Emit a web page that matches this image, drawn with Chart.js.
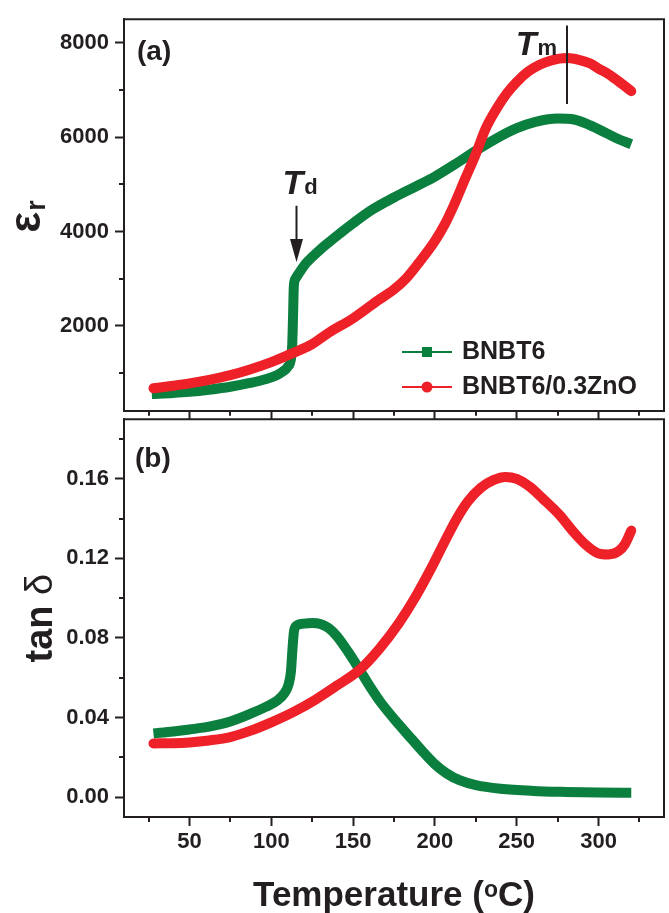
<!DOCTYPE html>
<html><head><meta charset="utf-8">
<script src="https://cdn.jsdelivr.net/npm/chart.js@4.4.1/dist/chart.umd.min.js"></script>
<style>
html,body{margin:0;padding:0;background:#fff;}
#wrap{position:relative;width:669px;height:913px;overflow:hidden;background:#fff;}
#cb{position:absolute;left:0;top:400px;}
#ct{position:absolute;left:0;top:0;}
</style></head><body>
<div id="wrap">
<canvas id="cb" width="669" height="513"></canvas>
<canvas id="ct" width="669" height="430"></canvas>
</div>
<script>
// ---------- data ----------
const SERIES_NAMES = ['BNBT6', 'BNBT6/0.3ZnO'];
const X_MIN = 10, X_MAX = 340;
const X_MAJOR_TICKS = [50, 100, 150, 200, 250, 300];
const X_MINOR_TICKS = [25, 75, 125, 175, 225, 275, 325];
const EPS_MIN = 200, EPS_MAX = 8500;
const EPS_MAJOR_TICKS = [2000, 4000, 6000, 8000];
const EPS_MINOR_TICKS = [1000, 3000, 5000, 7000];
const TAN_MIN = -0.01, TAN_MAX = 0.19;
const TAN_MAJOR_TICKS = [0, 0.04, 0.08, 0.12, 0.16];
const TAN_MINOR_TICKS = [0.02, 0.06, 0.10, 0.14, 0.18];

// (a) permittivity
const EPS_T_BNBT6 = [27, 40, 50, 62, 75, 87, 97, 103, 107, 110, 111.8, 112.8, 113.3, 113.8, 114.8, 117, 121, 125, 130, 135, 142, 150, 162, 175, 188, 200, 212, 225, 238, 250, 262, 275, 285, 295, 305, 312, 320];
const EPS_BNBT6   = [555, 578, 603, 648, 710, 790, 875, 950, 1030, 1130, 1260, 1600, 2200, 2850, 3000, 3120, 3320, 3460, 3620, 3765, 3960, 4175, 4470, 4721, 4950, 5165, 5420, 5712, 5980, 6190, 6330, 6395, 6375, 6250, 6080, 5960, 5850];
const EPS_T_ZNO = [28, 40, 50, 62, 75, 87, 100, 112, 125, 135, 150, 165, 175, 182, 190, 200, 206, 212, 218, 225, 231, 238, 244, 250, 257, 264, 270, 276, 281, 288, 295, 300, 305, 310, 315, 320];
const EPS_ZNO   = [677, 730, 780, 855, 955, 1075, 1230, 1405, 1613, 1852, 2160, 2535, 2774, 2990, 3330, 3800, 4150, 4590, 5080, 5643, 6180, 6620, 6930, 7170, 7390, 7535, 7615, 7665, 7679, 7640, 7560, 7453, 7360, 7240, 7110, 6975];

// (b) loss tangent
const TAN_T_BNBT6 = [28, 40, 50, 62, 75, 87, 97, 104, 108, 110.5, 112, 113, 114, 116, 120, 125, 130, 135, 140, 147, 154, 160, 167, 178, 186, 193, 200, 207, 215, 225, 240, 260, 280, 300, 320];
const TAN_BNBT6   = [0.032, 0.033, 0.034, 0.0354, 0.0380, 0.0418, 0.0455, 0.0488, 0.0522, 0.0565, 0.063, 0.075, 0.084, 0.0865, 0.0872, 0.0875, 0.087, 0.085, 0.081, 0.073, 0.064, 0.056, 0.0475, 0.0365, 0.029, 0.0225, 0.0165, 0.012, 0.0085, 0.006, 0.0042, 0.0031, 0.0026, 0.0023, 0.0022];
const TAN_T_ZNO = [28, 40, 50, 62, 75, 87, 100, 114, 127, 140, 154, 166, 178, 188, 198, 206, 213, 220, 228, 236, 243, 250, 258, 266, 276, 284, 292, 300, 306, 312, 316, 320];
const TAN_ZNO   = [0.027, 0.0271, 0.0275, 0.0285, 0.0302, 0.0333, 0.0376, 0.043, 0.049, 0.056, 0.064, 0.0745, 0.0875, 0.1005, 0.1155, 0.1285, 0.1395, 0.1485, 0.1555, 0.1595, 0.161, 0.160, 0.156, 0.150, 0.142, 0.134, 0.127, 0.1225, 0.122, 0.1235, 0.127, 0.134];

// annotation anchors (data coordinates)
const TD_T = 115, TD_ARROW_TOP = 4546, TD_ARROW_TIP = 3355;
const TM_T = 281, TM_LINE_TOP = 8366, TM_LINE_BOTTOM = 6702;

// ---------- style ----------
const INK = '#231f20';
const GREEN = '#0a7f3e';
const RED = '#ee2028';
const FF = '"Liberation Sans", Arial, Helvetica, sans-serif';
const TICK_FONT = {family: FF, size: 22, weight: 'bold'};

function pts(xs, ys) { return xs.map((x, i) => ({x: x, y: ys[i]})); }

function ds(label, data, color, cap, order) {
  return {label, data, borderColor: color, backgroundColor: color, borderWidth: 10,
    showLine: true, pointRadius: 0, pointHoverRadius: 0, cubicInterpolationMode: 'monotone',
    borderCapStyle: cap, borderJoinStyle: 'round', order, fill: false};
}

function setTicks(list) { return s => { s.ticks = list.map(v => ({value: v})); }; }

function axisCommon() {
  return {grid: {drawOnChartArea: false, drawTicks: true, tickLength: 9, tickWidth: 2, color: INK},
          border: {display: true, width: 2, color: INK}};
}

function framePlugin(minX, minY) {
  return {
    id: 'frame',
    afterDraw(chart) {
      const {ctx, chartArea: a, scales} = chart;
      ctx.save();
      ctx.strokeStyle = INK; ctx.lineWidth = 2; ctx.lineCap = 'butt';
      ctx.beginPath();
      ctx.moveTo(a.left - 1, a.top); ctx.lineTo(a.right, a.top); ctx.lineTo(a.right, a.bottom + 1);
      ctx.stroke();
      ctx.beginPath();
      minY.forEach(v => { const y = Math.round(scales.y.getPixelForValue(v)); ctx.moveTo(a.left, y); ctx.lineTo(a.left - 5, y); });
      minX.forEach(v => { const x = Math.round(scales.x.getPixelForValue(v)); ctx.moveTo(x, a.bottom); ctx.lineTo(x, a.bottom + 5); });
      ctx.stroke();
      ctx.restore();
    }
  };
}

function txt(ctx, s, x, y, font, align, base, color) {
  ctx.font = font; ctx.textAlign = align || 'left'; ctx.textBaseline = base || 'alphabetic';
  ctx.fillStyle = color || INK; ctx.fillText(s, x, y);
  return ctx.measureText(s).width;
}

const topDecor = {
  id: 'topDecor',
  afterDraw(chart) {
    const {ctx, chartArea: a, scales: {x, y}} = chart;
    ctx.save();
    txt(ctx, '(a)', a.left + 13, a.top + 33, 'bold 28px ' + FF, 'left', 'middle');
    ctx.save();
    ctx.translate(40, (a.top + a.bottom) / 2 + 2);
    ctx.rotate(-Math.PI / 2);
    ctx.font = 'bold 44px ' + FF;
    const wE = ctx.measureText('ε').width;
    ctx.font = 'bold 27px ' + FF;
    const wR = ctx.measureText('r').width;
    const st = -(wE + wR) / 2;
    txt(ctx, 'ε', st, 0, 'bold 44px ' + FF);
    txt(ctx, 'r', st + wE + 1, 5, 'bold 27px ' + FF);
    ctx.restore();
    const ax = Math.round(x.getPixelForValue(TD_T)) + 0.5;
    const aTop = y.getPixelForValue(TD_ARROW_TOP);
    const aTip = y.getPixelForValue(TD_ARROW_TIP);
    ctx.strokeStyle = INK; ctx.fillStyle = INK; ctx.lineWidth = 2;
    ctx.beginPath(); ctx.moveTo(ax, aTop); ctx.lineTo(ax, aTip - 18); ctx.stroke();
    ctx.beginPath(); ctx.moveTo(ax, aTip); ctx.lineTo(ax - 6.5, aTip - 23); ctx.lineTo(ax + 6.5, aTip - 23); ctx.closePath(); ctx.fill();
    const wT = txt(ctx, 'T', ax - 14, aTop - 12, 'italic bold 34px ' + FF);
    txt(ctx, 'd', ax - 14 + wT + 1, aTop - 12, 'bold 22px ' + FF);
    const mx = Math.round(x.getPixelForValue(TM_T));
    const mTop = y.getPixelForValue(TM_LINE_TOP), mBot = y.getPixelForValue(TM_LINE_BOTTOM);
    ctx.beginPath(); ctx.moveTo(mx, mTop); ctx.lineTo(mx, mBot); ctx.stroke();
    ctx.font = 'bold 22px ' + FF;
    const wm = ctx.measureText('m').width;
    txt(ctx, 'm', mx - 10 - wm, mTop + 29, 'bold 22px ' + FF);
    txt(ctx, 'T', mx - 10 - wm - 1, mTop + 29, 'italic bold 34px ' + FF, 'right');
    const lx0 = a.left + 278, lx1 = a.left + 328, lm = a.left + 303;
    const ly = [352, 387];
    const cols = [GREEN, RED];
    for (let i = 0; i < 2; i++) {
      ctx.strokeStyle = cols[i]; ctx.fillStyle = cols[i]; ctx.lineWidth = 2;
      ctx.beginPath(); ctx.moveTo(lx0, ly[i]); ctx.lineTo(lx1, ly[i]); ctx.stroke();
      if (i === 0) { ctx.fillRect(lm - 5, ly[i] - 5, 10, 10); }
      else { ctx.beginPath(); ctx.arc(lm, ly[i], 5.5, 0, Math.PI * 2); ctx.fill(); }
      txt(ctx, SERIES_NAMES[i], a.left + 338, ly[i], 'bold 25px ' + FF, 'left', 'middle');
    }
    ctx.restore();
  }
};

const bottomDecor = {
  id: 'bottomDecor',
  afterDraw(chart) {
    const {ctx, chartArea: a} = chart;
    ctx.save();
    txt(ctx, '(b)', a.left + 11, a.top + 40, 'bold 28px ' + FF, 'left', 'middle');
    ctx.save();
    ctx.translate(52, (a.top + a.bottom) / 2);
    ctx.rotate(-Math.PI / 2);
    ctx.font = 'bold 38px ' + FF;
    const w1 = ctx.measureText('tan ').width;
    ctx.font = '38px ' + FF;
    const w2 = ctx.measureText('δ').width;
    const s = -(w1 + w2) / 2;
    txt(ctx, 'tan ', s, 0, 'bold 38px ' + FF);
    txt(ctx, 'δ', s + w1, 0, '38px ' + FF);
    ctx.restore();
    const big = 'bold 35px ' + FF, small = 'bold 23px ' + FF;
    ctx.font = big; const p1 = ctx.measureText('Temperature (').width; const p3 = ctx.measureText('C)').width;
    ctx.font = small; const p2 = ctx.measureText('o').width;
    const cx = (a.left + a.right) / 2;
    const base = a.bottom + 89;
    let sx = cx - (p1 + p2 + p3) / 2;
    txt(ctx, 'Temperature (', sx, base, big); sx += p1;
    txt(ctx, 'o', sx, base - 9, small); sx += p2;
    txt(ctx, 'C)', sx, base, big);
    ctx.restore();
  }
};

const common = {responsive: false, animation: false, events: [],
  plugins: {legend: {display: false}, tooltip: {enabled: false}}};

new Chart(document.getElementById('ct'), {
  type: 'scatter',
  data: {datasets: [
    ds(SERIES_NAMES[0], pts(EPS_T_BNBT6, EPS_BNBT6), GREEN, 'butt', 2),
    ds(SERIES_NAMES[1], pts(EPS_T_ZNO, EPS_ZNO), RED, 'round', 1)
  ]},
  options: Object.assign({}, common, {
    layout: {padding: {top: 7, right: 5, left: 0, bottom: 0}},
    scales: {
      x: Object.assign(axisCommon(), {type: 'linear', min: X_MIN, max: X_MAX,
        afterBuildTicks: setTicks(X_MAJOR_TICKS), afterFit: s => { s.height = 18; },
        ticks: {callback: () => '', autoSkip: false, maxRotation: 0}}),
      y: Object.assign(axisCommon(), {type: 'linear', min: EPS_MIN, max: EPS_MAX,
        afterBuildTicks: setTicks(EPS_MAJOR_TICKS), afterFit: s => { s.width = 124; },
        ticks: {callback: v => String(v), font: TICK_FONT, color: INK, padding: 6, autoSkip: false}})
    }
  }),
  plugins: [framePlugin(X_MINOR_TICKS, EPS_MINOR_TICKS), topDecor]
});

new Chart(document.getElementById('cb'), {
  type: 'scatter',
  data: {datasets: [
    ds(SERIES_NAMES[0], pts(TAN_T_BNBT6, TAN_BNBT6), GREEN, 'butt', 2),
    ds(SERIES_NAMES[1], pts(TAN_T_ZNO, TAN_ZNO), RED, 'round', 1)
  ]},
  options: Object.assign({}, common, {
    layout: {padding: {top: 12, right: 5, left: 0, bottom: 0}},
    scales: {
      x: Object.assign(axisCommon(), {type: 'linear', min: X_MIN, max: X_MAX,
        afterBuildTicks: setTicks(X_MAJOR_TICKS), afterFit: s => { s.height = 96; },
        ticks: {callback: v => String(v), font: TICK_FONT, color: INK, padding: 3, autoSkip: false, maxRotation: 0}}),
      y: Object.assign(axisCommon(), {type: 'linear', min: TAN_MIN, max: TAN_MAX,
        afterBuildTicks: setTicks(TAN_MAJOR_TICKS), afterFit: s => { s.width = 124; },
        ticks: {callback: v => Number(v).toFixed(2), font: TICK_FONT, color: INK, padding: 6, autoSkip: false}})
    }
  }),
  plugins: [framePlugin(X_MINOR_TICKS, TAN_MINOR_TICKS), bottomDecor]
});
</script>
</body></html>
